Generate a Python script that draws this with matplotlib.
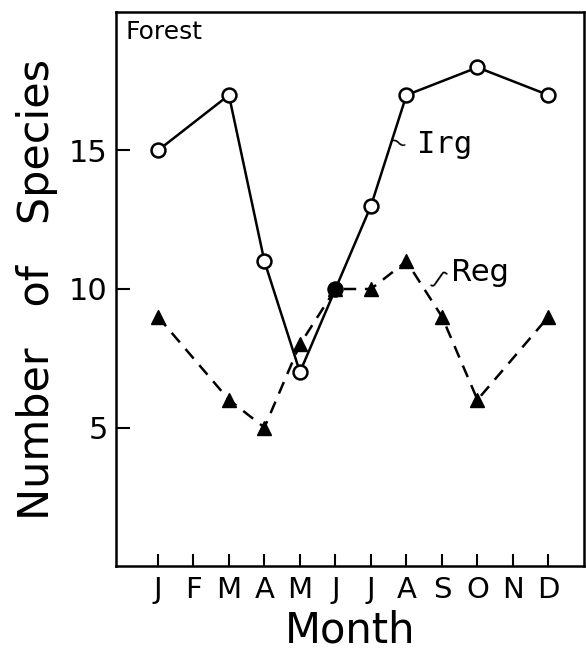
import matplotlib
matplotlib.use("Agg")
import matplotlib.pyplot as plt

# month positions and labels
month_labels = ["J", "F", "M", "A", "M", "J", "J", "A", "S", "O", "N", "D"]
month_pos = [1, 2, 3, 4, 5, 6, 7, 8, 9, 10, 11, 12]

# irregular species (open circles, solid line)
irg_x = [1, 3, 4, 5, 6, 7, 8, 10, 12]
irg_y = [15, 17, 11, 7, 10, 13, 17, 18, 17]

# regular species (filled triangles, dashed line)
reg_x = [1, 3, 4, 5, 6, 7, 8, 9, 10, 12]
reg_y = [9, 6, 5, 8, 10, 10, 11, 9, 6, 9]

# point shared by both series
both_x = [6]
both_y = [10]

plt.rcParams["font.family"] = ["DejaVu Sans"]

fig = plt.figure(figsize=(5.86, 6.56), dpi=100)
ax = fig.add_axes([116 / 586, 1 - 566 / 656, (584 - 116) / 586, (566 - 12) / 656])

ax.plot(irg_x, irg_y, color="black", lw=1.8, marker="o", ms=10,
        mfc="white", mec="black", mew=1.8, zorder=3)
ax.plot(reg_x, reg_y, color="black", lw=1.8, ls=(0, (5, 3.5)), marker="^",
        ms=10, mfc="black", mec="black", zorder=2)
ax.plot(both_x, both_y, ls="none", marker="o", ms=10, mfc="black",
        mec="black", zorder=4)

ax.set_xlim(-0.18, 13.0)
ax.set_ylim(0, 20)

ax.set_xticks(month_pos)
ax.set_xticklabels(month_labels, fontsize=21)
ax.set_yticks([5, 10, 15])
ax.set_yticklabels(["5", "10", "15"], fontsize=22)
ax.tick_params(axis="x", direction="in", length=9, width=1.5, pad=7)
ax.tick_params(axis="y", direction="in", length=10, width=1.5, pad=6)

for s in ax.spines.values():
    s.set_linewidth(1.8)

ax.set_xlabel("Month", fontsize=30, labelpad=4)
ax.set_ylabel("Number   of   Species", fontsize=31, labelpad=8)

ax.text(0.02, 0.985, "Forest", transform=ax.transAxes, fontsize=18,
        ha="left", va="top")

ax.text(7.75, 15.25, "~", fontsize=16, ha="center", va="center", rotation=-25)
ax.text(8.3, 15.2, "Irg", fontsize=22, ha="left", va="center",
        family="DejaVu Sans Mono")
ax.text(8.9, 10.35, "ʃ", fontsize=15, ha="center", va="center", rotation=-35)
ax.text(9.25, 10.6, "Reg", fontsize=22, ha="left", va="center")

fig.savefig("out.png", dpi=100)
